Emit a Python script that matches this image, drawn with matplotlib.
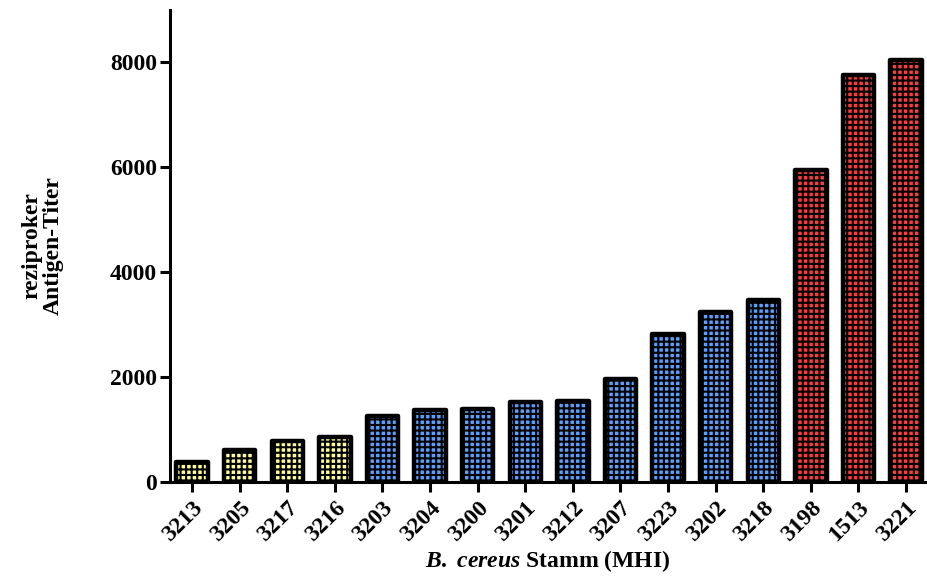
import matplotlib as mpl
import matplotlib.pyplot as plt
import numpy as np

strains = ['3213', '3205', '3217', '3216', '3203', '3204', '3200', '3201',
           '3212', '3207', '3223', '3202', '3218', '3198', '1513', '3221']
titer = [370, 600, 780, 850, 1260, 1370, 1390, 1530, 1550, 1960,
         2820, 3230, 3460, 5940, 7750, 8040]
groups = ['gelb'] * 4 + ['blau'] * 9 + ['rot'] * 3
group_colors = {'gelb': '#ffff96', 'blau': '#5aa0ff', 'rot': '#ff3c3c'}

mpl.rcParams['font.family'] = 'Liberation Serif'
mpl.rcParams['font.weight'] = 'bold'
mpl.rcParams['mathtext.fontset'] = 'custom'
mpl.rcParams['mathtext.it'] = 'Liberation Serif:italic:bold'
mpl.rcParams['mathtext.rm'] = 'Liberation Serif:bold'
mpl.rcParams['hatch.linewidth'] = 1.5

fig = plt.figure(figsize=(9.27, 5.77), dpi=100)
ax = fig.add_axes([0.183, 0.165, 0.815, 0.818])

x = np.arange(len(strains))
colors = [group_colors[g] for g in groups]
bars = ax.bar(x, titer, width=0.66, color=colors, edgecolor='black',
              linewidth=3.2, hatch='+++', joinstyle='round', zorder=3)

ax.set_xlim(-0.47, 15.4)
ax.set_ylim(0, 9000)
ax.set_yticks([0, 2000, 4000, 6000, 8000])
ax.set_xticks(x)
ax.set_xticklabels(strains, rotation=45, ha='right', va='top',
                   rotation_mode='anchor')

for side in ['top', 'right']:
    ax.spines[side].set_visible(False)
for side in ['left', 'bottom']:
    ax.spines[side].set_linewidth(2.2)
ax.tick_params(axis='both', width=2.2, length=7, labelsize=17, pad=2)
ax.tick_params(axis='x', pad=4)

ax.set_ylabel('reziproker\nAntigen-Titer', fontsize=17, fontweight='bold',
              linespacing=1.0)
ax.yaxis.set_label_coords(-0.14, 0.5)
ax.set_xlabel(r'$B.\ cereus$ Stamm (MHI)', fontsize=17, fontweight='bold',
              labelpad=2)

plt.savefig('out.png')
